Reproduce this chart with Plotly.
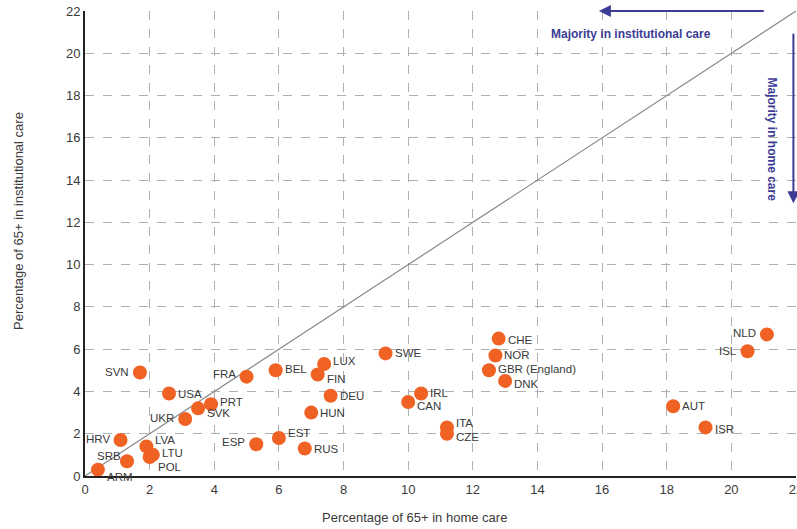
import plotly.graph_objects as go

codes = ["SVN", "USA", "PRT", "SVK", "UKR", "FRA", "BEL", "LUX", "FIN", "DEU", "HUN",
         "EST", "ESP", "RUS", "HRV", "LVA", "LTU", "POL", "SRB", "ARM", "SWE",
         "CHE", "NOR", "GBR (England)", "DNK", "IRL", "CAN", "ITA", "CZE",
         "AUT", "ISR", "NLD", "ISL"]
home_care = [1.7, 2.6, 3.9, 3.5, 3.1, 5.0, 5.9, 7.4, 7.2, 7.6, 7.0,
             6.0, 5.3, 6.8, 1.1, 1.9, 2.1, 2.0, 1.3, 0.4, 9.3,
             12.8, 12.7, 12.5, 13.0, 10.4, 10.0, 11.2, 11.2,
             18.2, 19.2, 21.1, 20.5]
institutional_care = [4.9, 3.9, 3.4, 3.2, 2.7, 4.7, 5.0, 5.3, 4.8, 3.8, 3.0,
                      1.8, 1.5, 1.3, 1.7, 1.4, 1.0, 0.9, 0.7, 0.3, 5.8,
                      6.5, 5.7, 5.0, 4.5, 3.9, 3.5, 2.3, 2.0,
                      3.3, 2.3, 6.7, 5.9]
x_ticks = list(range(0, 23, 2))
y_ticks = list(range(0, 23, 2))

# label placement (pixel offsets, anchor) per country code
label_style = {
    "SVN": (-9, 0, "right"), "FRA": (-9, 3, "right"), "UKR": (-9, 1, "right"),
    "HRV": (-9, 1, "right"), "ESP": (-9, 2, "right"), "NLD": (-9, 1, "right"),
    "ISL": (-9, 0, "right"), "SRB": (-4, 5, "right"),
    "FIN": (7, -4, "left"), "CAN": (7, -4, "left"), "SVK": (7, -5, "left"),
    "POL": (6, -10, "left"), "ARM": (7, -7, "left"), "DNK": (7, -3, "left"),
    "CZE": (7, -3, "left"), "ITA": (7, 4, "left"), "ISR": (7, -2, "left"),
    "EST": (7, 5, "left"), "LVA": (7, 6, "left"), "LTU": (7, 2, "left"),
    "LUX": (7, 3, "left"), "CHE": (7, -1, "left"), "IRL": (7, 1, "left"),
    "RUS": (7, 0, "left"), "AUT": (7, 0, "left"), "PRT": (7, 2, "left"),
    "USA": (7, 0, "left"), "BEL": (7, 1, "left"), "DEU": (7, 0, "left"),
    "HUN": (7, 0, "left"), "SWE": (7, 0, "left"), "NOR": (7, 1, "left"),
    "GBR (England)": (7, 1, "left"),
}

FONT = "Liberation Sans Narrow, Arial Narrow, Liberation Sans, Arial, sans-serif"
TXT = "#3a3a3a"
BLUE = "#3c3c96"

fig = go.Figure()

fig.add_trace(go.Scatter(x=[0, 22], y=[0, 22], mode="lines",
                         line=dict(color="#8a8a8a", width=1.2),
                         hoverinfo="skip", showlegend=False))

fig.add_trace(go.Scatter(x=home_care, y=institutional_care, mode="markers",
                         marker=dict(color="#EF6224", size=14, line=dict(width=0)),
                         text=codes, showlegend=False))

annotations = []
for c, xv, yv in zip(codes, home_care, institutional_care):
    dx, dy, anc = label_style[c]
    annotations.append(dict(x=xv, y=yv, xref="x", yref="y", text=c, showarrow=False,
                            xanchor=anc, yanchor="middle", xshift=dx, yshift=dy,
                            font=dict(family=FONT, size=11.5, color=TXT)))

# arrows and notes
annotations.append(dict(x=15.9, y=22, ax=21.05, ay=22, xref="x", yref="y",
                        axref="x", ayref="y", text="", showarrow=True,
                        arrowhead=2, arrowsize=1.2, arrowwidth=2, arrowcolor=BLUE))
annotations.append(dict(x=21.92, y=12.9, ax=21.92, ay=21.0, xref="x", yref="y",
                        axref="x", ayref="y", text="", showarrow=True,
                        arrowhead=2, arrowsize=1.2, arrowwidth=2, arrowcolor=BLUE))
annotations.append(dict(x=16.9, y=20.9, xref="x", yref="y", showarrow=False,
                        xanchor="center", yanchor="middle",
                        text="<b>Majority in institutional care</b>",
                        font=dict(family="Liberation Sans, Arial, sans-serif", size=12, color=BLUE)))
annotations.append(dict(x=21.27, y=15.9, xref="x", yref="y", showarrow=False,
                        xanchor="center", yanchor="middle",
                        text="<b>Majority in home care</b>", textangle=90,
                        font=dict(family="Liberation Sans, Arial, sans-serif", size=12, color=BLUE)))

W, H = 797, 529
ml, mr, mt, mb = 85, 1, 11, 53
pw, ph = W - ml - mr, H - mt - mb

# axis titles at pixel positions
titles = [(414, 517, "Percentage of 65+ in home care", 0),
          (18, 221, "Percentage of 65+ in institutional care", -90)]
for px, py, txt, ang in titles:
    annotations.append(dict(x=(px - ml) / pw, y=1 - (py - mt) / ph,
                            xref="paper", yref="paper", showarrow=False, text=txt,
                            xanchor="center", yanchor="middle",
                            textangle=ang, font=dict(family=FONT, size=13, color=TXT)))

axis_common = dict(range=[0, 22], showgrid=True, gridcolor="#b0b0b0", griddash="dash",
                   gridwidth=1, zeroline=False, showline=True, linecolor="#222",
                   linewidth=2, ticks="", automargin=False, ticklabeloverflow="allow",
                   tickfont=dict(family=FONT, size=13, color=TXT))

fig.update_layout(
    width=W, height=H,
    margin=dict(l=ml, r=mr, t=mt, b=mb, autoexpand=False),
    plot_bgcolor="white", paper_bgcolor="white",
    font=dict(family=FONT, size=13, color=TXT),
    annotations=annotations,
    xaxis=dict(tickvals=x_ticks, ticktext=[str(v) for v in x_ticks], **axis_common),
    yaxis=dict(tickvals=y_ticks, ticktext=[str(v) for v in y_ticks], **axis_common),
)

fig.write_html("out.html", config={"displayModeBar": False},
               post_script="document.body.style.margin='0';document.body.style.overflow='hidden';")
